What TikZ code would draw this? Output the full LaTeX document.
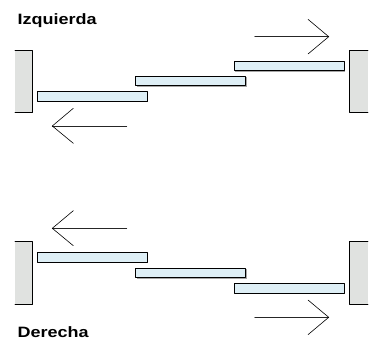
\documentclass[tikz,border=0pt]{standalone}
\usepackage{fontspec}
\setmainfont{Liberation Sans}
\usetikzlibrary{calc}
\definecolor{muro}{RGB}{224,226,224}
\definecolor{tabla}{RGB}{222,239,246}
\begin{document}
\begin{tikzpicture}[x=1pt,y=-1pt,line join=round,line cap=round,
	muro/.style={fill=muro},
	tabla/.style={fill=tabla,draw=black,line width=0.7pt},
	sombra/.style={fill=gray!70},
	flecha/.style={draw=black!85,line width=0.7pt},
	titulo/.style={font=\bfseries\fontsize{15}{15}\selectfont,xscale=1.2,anchor=base west,inner sep=0pt}]
	\def\w{109.7} \def\h{9.7} % Tabla
	\useasboundingbox (0,0) rectangle (376,340);
	% Izquierda
	\node[titulo] (izq) at (17.3,24) {Izquierda};
	\fill[sombra] (16,51) rectangle (33.2,113.2);
	\fill[muro] (15,50) rectangle (32,112);
	\draw[line width=0.7pt] (15,50)--(32,50)--(32,112)--(15,112);
	\fill[sombra] (350.3,51) rectangle (368,113.2);
	\fill[muro] (349.3,50) rectangle (368,112);
	\draw[line width=0.7pt] (368,50)--(349.3,50)--(349.3,112)--(368,112);
	\foreach \i in {0,1,2}{
		\fill[sombra] ({37.3+98.5*\i+1},{91.3-15.2*\i+1}) rectangle ++(\w,\h);
		\draw[tabla] ({37.3+98.5*\i},{91.3-15.2*\i}) rectangle ++(\w,\h);
	}
	\coordinate (a1) at (126.7,126); \coordinate (p1) at (52.3,126);
	\draw[flecha] (a1)--(p1);
	\draw[line width=0.6pt] ($(p1)+(21,-17.7)$)--(p1)--($(p1)+(21,17.3)$);
	\coordinate (a2) at (254.7,36.7); \coordinate (p2) at (328.7,36.7);
	\draw[flecha] (a2)--(p2);
	\draw[line width=0.6pt] ($(p2)+(-20.7,-17.4)$)--(p2)--($(p2)+(-20.7,17.3)$);
	% Derecha
	\fill[sombra] (16,242.7) rectangle (33.2,305.2);
	\fill[muro] (15,241.7) rectangle (32,304);
	\draw[line width=0.7pt] (15,241.7)--(32,241.7)--(32,304)--(15,304);
	\fill[sombra] (350.3,242.7) rectangle (368,305.2);
	\fill[muro] (349.3,241.7) rectangle (368,304);
	\draw[line width=0.7pt] (368,241.7)--(349.3,241.7)--(349.3,304)--(368,304);
	\foreach \i in {0,1,2}{
		\fill[sombra] ({37.3+98.5*\i+1},{252.7+15.3*\i+1}) rectangle ++(\w,\h);
		\draw[tabla] ({37.3+98.5*\i},{252.7+15.3*\i}) rectangle ++(\w,\h);
	}
	\coordinate (a3) at (126.7,228.3); \coordinate (p3) at (52.3,228.3);
	\draw[flecha] (a3)--(p3);
	\draw[line width=0.6pt] ($(p3)+(21,-17.6)$)--(p3)--($(p3)+(21,17.4)$);
	\coordinate (a4) at (254.7,317.3); \coordinate (p4) at (328.7,317.3);
	\draw[flecha] (a4)--(p4);
	\draw[line width=0.6pt] ($(p4)+(-20.7,-17.3)$)--(p4)--($(p4)+(-20.7,17.4)$);
	\node[titulo] (der) at (17.3,337.7) {Derecha};
\end{tikzpicture}
\end{document}
